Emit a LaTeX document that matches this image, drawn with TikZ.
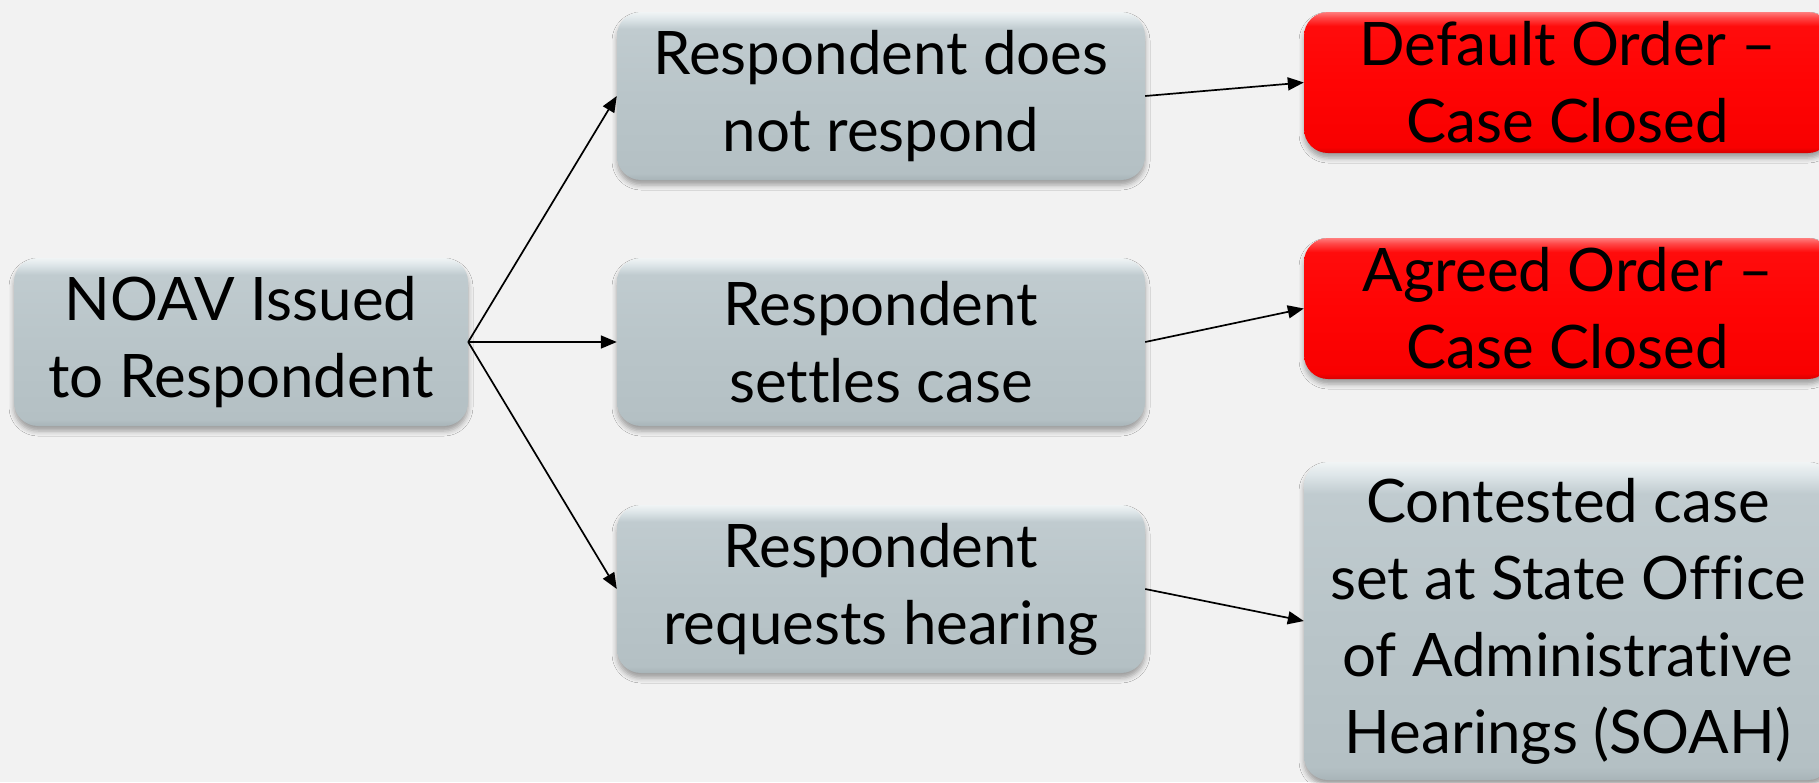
\documentclass[tikz,border=0pt]{standalone}
\usepackage{fontspec}
\setmainfont[Ligatures={NoCommon}]{Lato}
\usetikzlibrary{arrows.meta,shadows.blur}
\definecolor{bg}{RGB}{242,242,242}
\definecolor{gA}{RGB}{168,180,184}
\definecolor{gB}{RGB}{180,192,196}
\definecolor{gC}{RGB}{185,197,201}
\definecolor{gD}{RGB}{192,203,207}
\definecolor{gE}{RGB}{222,230,233}
\definecolor{gF}{RGB}{240,244,245}
\definecolor{rA}{RGB}{215,0,0}
\definecolor{rB}{RGB}{248,0,0}
\definecolor{rC}{RGB}{255,4,4}
\definecolor{rD}{RGB}{255,12,12}
\definecolor{rE}{RGB}{255,70,70}
\definecolor{rF}{RGB}{255,125,125}
\pgfdeclareverticalshading{graybev}{100bp}{color(0bp)=(gA); color(25bp)=(gA); color(27bp)=(gB); color(50bp)=(gC); color(70bp)=(gD); color(73bp)=(gE); color(75bp)=(gF); color(100bp)=(gF)}
\pgfdeclareverticalshading{redbev}{100bp}{color(0bp)=(rA); color(25bp)=(rA); color(27bp)=(rB); color(50bp)=(rC); color(70bp)=(rD); color(73bp)=(rE); color(75bp)=(rF); color(100bp)=(rF)}
\tikzset{
  box/.style={rounded corners=24pt, shading=graybev, draw=none,
    blur shadow={shadow xshift=0pt, shadow yshift=-5pt, shadow blur radius=5pt, shadow opacity=35},
    align=center, font=\fontsize{60}{77}\selectfont, text=black, inner sep=0pt},
  redbox/.style={box, shading=redbev},
  arr/.style={-{Triangle[length=16pt,width=13pt]}, line width=1.7pt, black}
}
\begin{document}
\begin{tikzpicture}[x=1pt,y=-1pt]
\useasboundingbox (0,0) rectangle (1819,782);
\fill[bg] (0,0) rectangle (1819,782);
\node[box, minimum width=454pt, minimum height=168pt] (noav) at (241,342) {NOAV Issued\\to Respondent};
\node[box, minimum width=528pt, minimum height=168pt] (b1) at (881,96) {Respondent does\\not respond};
\node[box, minimum width=528pt, minimum height=168pt] (b2) at (881,342) {Respondent\\settles case};
\node[box, minimum width=528pt, minimum height=168pt] (b3) at (881,589) {Respondent\\requests hearing};
\node[redbox, minimum width=528pt, minimum height=141pt] (r1) at (1568,82.5) {Default Order --\\Case Closed};
\node[redbox, minimum width=528pt, minimum height=141pt] (r2) at (1568,308.5) {Agreed Order --\\Case Closed};
\node[box, minimum width=528pt, minimum height=318pt] (g3) at (1568,621) {Contested case\\set at State Office\\of Administrative\\Hearings (SOAH)};
\draw[arr] (noav.east) -- (b1.west);
\draw[arr] (noav.east) -- (b2.west);
\draw[arr] (noav.east) -- (b3.west);
\draw[arr] (b1.east) -- (r1.west);
\draw[arr] (b2.east) -- (r2.west);
\draw[arr] (b3.east) -- (g3.west);
\end{tikzpicture}
\end{document}
